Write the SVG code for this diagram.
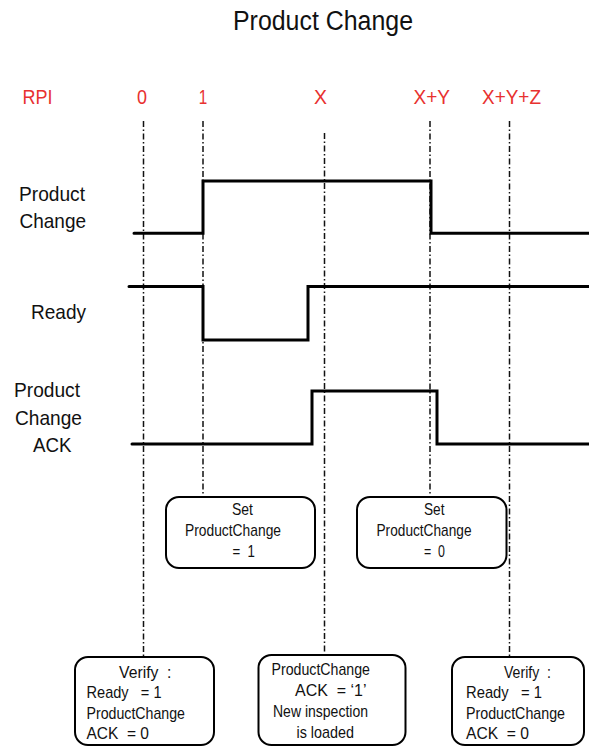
<svg xmlns="http://www.w3.org/2000/svg" width="589" height="748" viewBox="0 0 589 748">
<style>
text{font-family:"Liberation Sans",Arial,sans-serif;fill:#111;white-space:pre}
.t{font-size:27px}
.r{font-size:21px;fill:#e8312f}
.l{font-size:21px}
.b{font-size:17px}
.grid{stroke:#111;stroke-width:1.5;stroke-dasharray:6,2.5,1.5,2.5;fill:none}
.sig{stroke:#000;stroke-width:3;fill:none;stroke-linecap:round;stroke-linejoin:miter}
.box rect{fill:#fff;stroke:#000;stroke-width:2}
</style>
<rect width="589" height="748" fill="#fff"/>
<text class="t" x="233" y="30" textLength="180" lengthAdjust="spacingAndGlyphs">Product Change</text>
<g id="rpi-labels">
<text class="r" x="22.5" y="104" textLength="30" lengthAdjust="spacingAndGlyphs">RPI</text>
<text class="r" x="142" y="104" text-anchor="middle" textLength="10" lengthAdjust="spacingAndGlyphs">0</text>
<text class="r" x="203" y="104" text-anchor="middle" textLength="8.5" lengthAdjust="spacingAndGlyphs">1</text>
<text class="r" x="320.5" y="104" text-anchor="middle" textLength="13" lengthAdjust="spacingAndGlyphs">X</text>
<text class="r" x="413.5" y="104" textLength="36.5" lengthAdjust="spacingAndGlyphs">X+Y</text>
<text class="r" x="482" y="104" textLength="59" lengthAdjust="spacingAndGlyphs">X+Y+Z</text>
</g>
<g id="signal-labels">
<text class="l" x="19" y="201" textLength="66" lengthAdjust="spacingAndGlyphs">Product</text>
<text class="l" x="19.5" y="228" textLength="66.5" lengthAdjust="spacingAndGlyphs">Change</text>
<text class="l" x="31" y="319" textLength="55" lengthAdjust="spacingAndGlyphs">Ready</text>
<text class="l" x="14" y="397" textLength="66" lengthAdjust="spacingAndGlyphs">Product</text>
<text class="l" x="15" y="425" textLength="67" lengthAdjust="spacingAndGlyphs">Change</text>
<text class="l" x="33" y="452" textLength="38.5" lengthAdjust="spacingAndGlyphs">ACK</text>
</g>
<g id="connectors">
<line class="grid" x1="143.5" y1="121" x2="143.5" y2="657"/>
<line class="grid" x1="203" y1="121" x2="203" y2="497"/>
<line class="grid" x1="324.5" y1="133" x2="324.5" y2="655"/>
<line class="grid" x1="430" y1="121" x2="430" y2="497"/>
<line class="grid" x1="509.5" y1="121" x2="509.5" y2="657"/>
</g>
<g id="signals">
<path id="sig-productchange" class="sig" d="M134,233.3 H203 V181 H431 V233.3 H590"/>
<path id="sig-ready" class="sig" d="M129,286.5 H203 V340 H308 V286.5 H590"/>
<path id="sig-ack" class="sig" d="M132,444 H312 V391 H437 V444 H590"/>
</g>
<g id="box-set1" class="box">
<rect x="166" y="497" width="149" height="71" rx="13"/>
<text class="b" x="232" y="515" textLength="21" lengthAdjust="spacingAndGlyphs">Set</text>
<text class="b" x="185" y="536" textLength="96" lengthAdjust="spacingAndGlyphs">ProductChange</text>
<text class="b" x="232.5" y="557" textLength="22.5" lengthAdjust="spacingAndGlyphs">=  1</text>
</g>
<g id="box-set0" class="box">
<rect x="357" y="497" width="149.5" height="71" rx="13"/>
<text class="b" x="424" y="515" textLength="20.5" lengthAdjust="spacingAndGlyphs">Set</text>
<text class="b" x="376.5" y="536" textLength="95" lengthAdjust="spacingAndGlyphs">ProductChange</text>
<text class="b" x="424" y="557" textLength="21" lengthAdjust="spacingAndGlyphs">=  0</text>
</g>
<g id="box-verify1" class="box">
<rect x="75" y="657" width="139" height="88" rx="13"/>
<text class="b" x="119" y="677.5" textLength="52.5" lengthAdjust="spacingAndGlyphs">Verify  :</text>
<text class="b" x="86.5" y="698" textLength="75" lengthAdjust="spacingAndGlyphs">Ready   = 1</text>
<text class="b" x="86.5" y="718.5" textLength="98.5" lengthAdjust="spacingAndGlyphs">ProductChange</text>
<text class="b" x="86.5" y="739" textLength="62.5" lengthAdjust="spacingAndGlyphs">ACK  = 0</text>
</g>
<g id="box-ack" class="box">
<rect x="258.5" y="655" width="147" height="90" rx="13"/>
<text class="b" x="271.5" y="675" textLength="98.5" lengthAdjust="spacingAndGlyphs">ProductChange</text>
<text class="b" x="295" y="696" textLength="71.5" lengthAdjust="spacingAndGlyphs">ACK  = ‘1’</text>
<text class="b" x="273" y="717" textLength="95" lengthAdjust="spacingAndGlyphs">New inspection</text>
<text class="b" x="296.5" y="738" textLength="57.5" lengthAdjust="spacingAndGlyphs">is loaded</text>
</g>
<g id="box-verify2" class="box">
<rect x="452" y="657" width="132" height="88" rx="13"/>
<text class="b" x="504" y="677.5" textLength="47" lengthAdjust="spacingAndGlyphs">Verify  :</text>
<text class="b" x="466" y="698" textLength="76" lengthAdjust="spacingAndGlyphs">Ready   = 1</text>
<text class="b" x="466" y="718.5" textLength="99" lengthAdjust="spacingAndGlyphs">ProductChange</text>
<text class="b" x="466" y="739" textLength="63" lengthAdjust="spacingAndGlyphs">ACK  = 0</text>
</g>
</svg>
